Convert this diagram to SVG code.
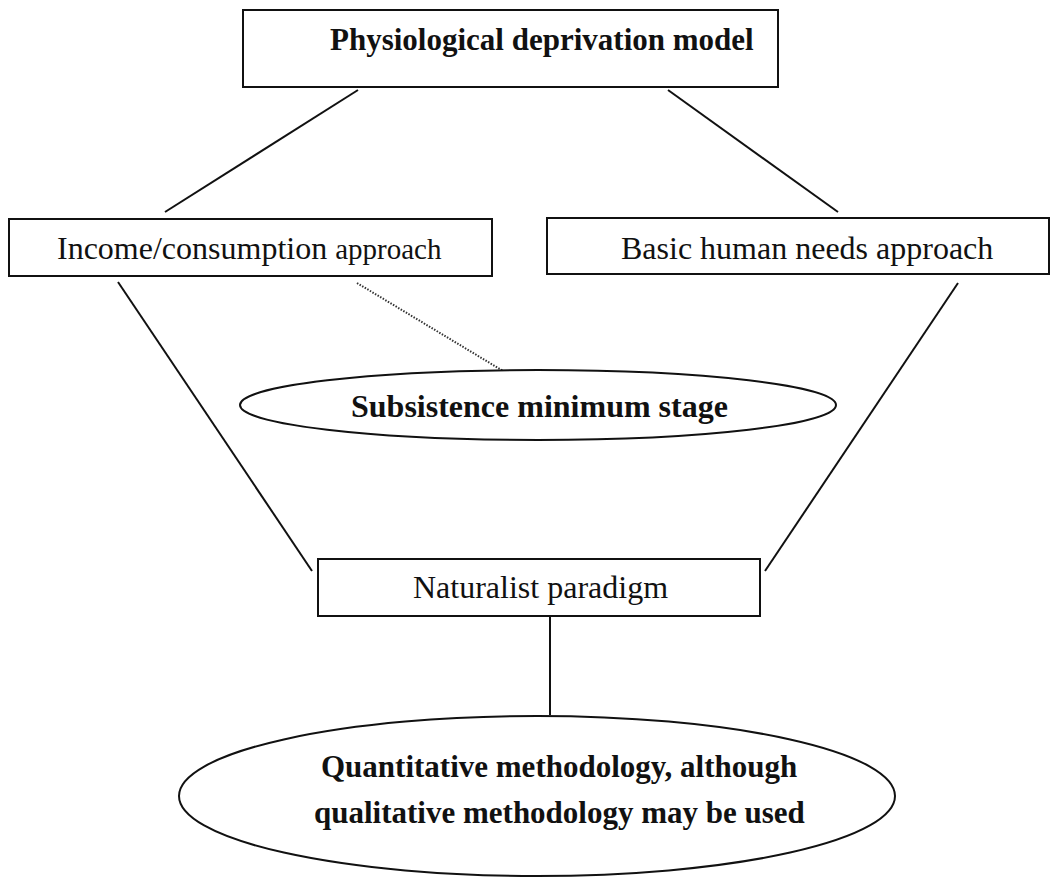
<svg xmlns="http://www.w3.org/2000/svg" width="1058" height="878" viewBox="0 0 1058 878">
<style>
.box{fill:#fff;stroke:#111;stroke-width:2}
.ell{fill:#fff;stroke:#111;stroke-width:2}
.t{font-family:"Liberation Serif","Times New Roman",serif;fill:#111}
.b{font-weight:bold}
.ln{stroke:#111;stroke-width:2;fill:none}
.dot{stroke:#333;stroke-width:2;stroke-dasharray:1.5 1.5;fill:none}
</style>
<rect width="1058" height="878" fill="#fff"/>
<g id="connectors">
<line class="ln" x1="358" y1="90" x2="165" y2="212"/>
<line class="ln" x1="668" y1="90" x2="838" y2="212"/>
<line class="ln" x1="118" y1="282" x2="312" y2="571"/>
<line class="ln" x1="958" y1="283" x2="765" y2="571"/>
<line class="dot" x1="357" y1="283" x2="523" y2="383"/>
<line class="ln" x1="550" y1="616" x2="550" y2="715"/>
</g>
<g id="node-physiological">
<rect class="box" x="243" y="10" width="535" height="77"/>
<text class="t b" x="330" y="50" font-size="31">Physiological deprivation model</text>
</g>
<g id="node-income">
<rect class="box" x="9" y="219" width="483" height="57"/>
<text class="t" x="57" y="259" font-size="32">Income/consumption <tspan font-size="29">approach</tspan></text>
</g>
<g id="node-basic">
<rect class="box" x="547" y="218" width="502" height="56"/>
<text class="t" x="621" y="259" font-size="32">Basic human needs approach</text>
</g>
<g id="node-subsistence">
<ellipse class="ell" cx="538" cy="405" rx="298" ry="35"/>
<text class="t b" x="351" y="417" font-size="32">Subsistence minimum stage</text>
</g>
<g id="node-naturalist">
<rect class="box" x="318" y="559" width="442" height="57"/>
<text class="t" x="413" y="598" font-size="32">Naturalist paradigm</text>
</g>
<g id="node-quantitative">
<ellipse class="ell" cx="537" cy="796" rx="358" ry="80"/>
<text class="t b" x="321" y="777" font-size="31">Quantitative methodology, although</text>
<text class="t b" x="314" y="823" font-size="31">qualitative methodology may be used</text>
</g>
</svg>
